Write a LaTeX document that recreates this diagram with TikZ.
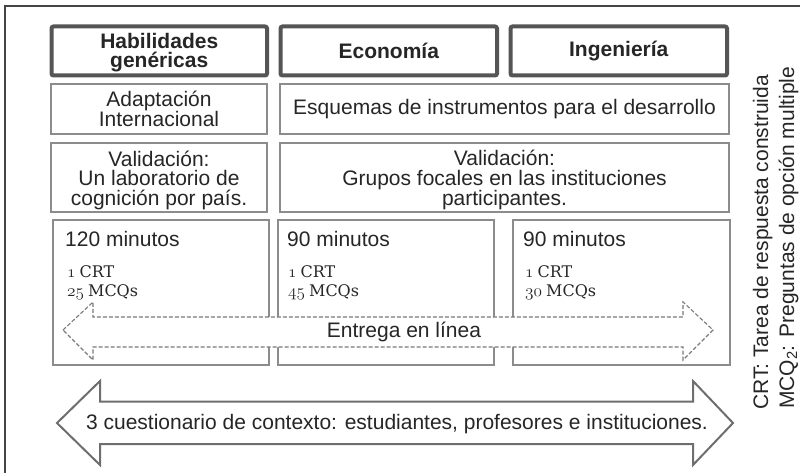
\documentclass[tikz,border=0pt]{standalone}
\usepackage{fontspec}
\setmainfont{Liberation Sans}
\newfontfamily\crtfont{DejaVu Serif}
\newcommand\osnum[1]{{\usefont{OML}{lmm}{b}{it}\fontsize{18.5}{18.5}\selectfont#1}}
\newcommand\crtline[2]{\crtfont\fontsize{16}{18}\selectfont\osnum{#1}\hspace{4pt}#2}
\definecolor{textc}{HTML}{262626}
\definecolor{hdrc}{HTML}{555555}
\definecolor{cellc}{HTML}{8C8C8C}
\definecolor{framec}{HTML}{444444}
\definecolor{arrowc}{HTML}{6E6E6E}
\definecolor{dashc}{HTML}{7A7A7A}
\begin{document}
\begin{tikzpicture}[x=1pt,y=-1pt,
  txt/.style={text=textc, font=\fontsize{21}{19.5}\selectfont, align=center, inner sep=0pt},
  hdr/.style={draw=hdrc, line width=4pt, rounded corners=2pt, minimum height=49pt, inner sep=0pt},
  hdrtxt/.style={txt, font=\fontsize{21}{19.5}\selectfont\bfseries},
  cell/.style={txt, draw=cellc, line width=1.3pt},
  crtnote/.style={text=textc, inner sep=0pt, anchor=base west},
  mins/.style={txt, anchor=base west},
  side/.style={txt, rotate=90, anchor=base west}]
\useasboundingbox (0,0) rectangle (800,473);
\fill[white] (0,0) rectangle (800,473);
% outer frame
\draw[framec, line width=1.5pt] (5,480) -- (5,6) -- (805,6);
% headers
\node[hdr, minimum width=215.5pt] (h1) at (159.25,51) {};
\node[hdrtxt] (h1t) at (159.25,52.5) {Habilidades\\genéricas};
\node[hdr, minimum width=216.5pt] (h2) at (388.75,51) {};
\node[hdrtxt] (h2t) at (388.75,51) {Economía};
\node[hdr, minimum width=216.5pt] (h3) at (618.75,51) {};
\node[hdrtxt] (h3t) at (618.75,51) {Ingeniería};
% row 2
\node[cell, minimum width=216pt, minimum height=50pt] (a1) at (159,109) {Adaptación\\Internacional};
\node[cell, minimum width=449pt, minimum height=50pt] (a2) at (504.5,109) {Esquemas de instrumentos para el desarrollo};
% row 3
\node[cell, minimum width=216pt, minimum height=69pt] (v1) at (159,177.5) {};
\node[txt] (v1t) at (159,180) {Validación:\\Un laboratorio de\\cognición por país.};
\node[cell, minimum width=449pt, minimum height=69pt] (v2) at (504.5,177.5) {};
\node[txt] (v2t) at (504.5,180) {Validación:\\Grupos focales en las instituciones\\participantes.};
% row 4
\node[cell, minimum width=216pt, minimum height=145pt] (b1) at (161,292.5) {};
\node[cell, minimum width=216pt, minimum height=145pt] (b2) at (386,292.5) {};
\node[cell, minimum width=217pt, minimum height=145pt] (b3) at (621.5,292.5) {};
\node[mins] (m1) at (65,246.5) {120 minutos};
\node[mins] (m2) at (287,246.5) {90 minutos};
\node[mins] (m3) at (523,246.5) {90 minutos};
\node[crtnote] (c1) at (67,277) {\crtline{1}{CRT}};
\node[crtnote] (q1) at (67,296) {\crtline{25}{MCQs}};
\node[crtnote] (c2) at (288,277) {\crtline{1}{CRT}};
\node[crtnote] (q2) at (288,296) {\crtline{45}{MCQs}};
\node[crtnote] (c3) at (525,277) {\crtline{1}{CRT}};
\node[crtnote] (q3) at (525,296) {\crtline{30}{MCQs}};
% dashed double arrow
\draw[dashc, line width=1.1pt, dash pattern=on 4pt off 2pt, fill=white]
  (63,330) -- (93,302) -- (93,317) -- (683,317) -- (683,302) -- (713,330)
  -- (683,360) -- (683,347) -- (93,347) -- (93,360) -- cycle;
\node[txt] (del) at (404,332) {Entrega en línea};
% big double arrow
\draw[arrowc, line width=2pt, fill=white, line join=miter]
  (57,423) -- (100,381) -- (100,401.5) -- (693,401.5) -- (693,381) -- (733,423)
  -- (693,465) -- (693,444) -- (100,444) -- (100,465) -- cycle;
\node[txt] (ctx) at (397,424) {3 cuestionario de contexto: estudiantes, profesores e instituciones.};
% side notes
\node[side] (s1) at (768,410) {CRT: Tarea de respuesta construida};
\node[side] (s2) at (794,409) {MCQ\textsubscript{2}: Preguntas de opción multiple};
\end{tikzpicture}
\end{document}
